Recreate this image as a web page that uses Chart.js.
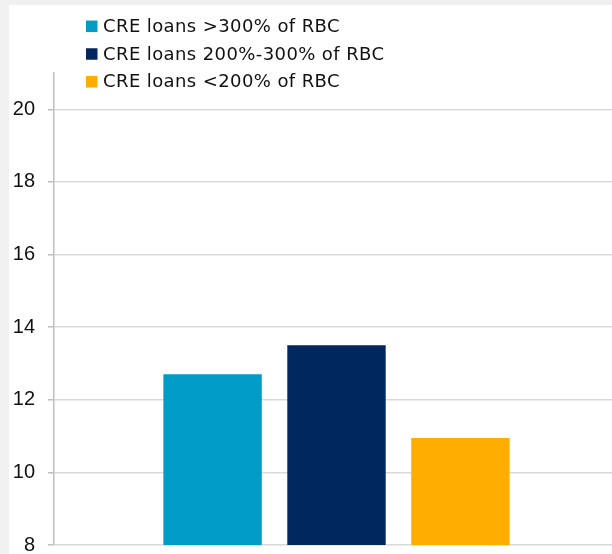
<!DOCTYPE html>
<html>
<head>
<meta charset="utf-8">
<script src="https://cdn.jsdelivr.net/npm/chart.js@4.4.1/dist/chart.umd.min.js"></script>
<style>
  html, body { margin: 0; padding: 0; background: #f0f0f0; overflow: hidden; }
  body { width: 612px; height: 554px; position: relative; }
  #wrap { position: absolute; left: 9px; top: 5px; width: 610px; height: 565px; background: #ffffff; }
  canvas { display: block; }
</style>
</head>
<body>
<div id="wrap"><canvas id="chart" width="610" height="565"></canvas></div>
<script>
// Share of banks (%) by CRE concentration relative to risk-based capital
const categories = [''];
const seriesLabels = ['CRE loans >300% of RBC', 'CRE loans 200%-300% of RBC', 'CRE loans <200% of RBC'];
const seriesValues = [12.7, 13.5, 10.95];
const seriesColors = ['#009cc6', '#00285f', '#ffad00'];
const yMin = 8;
const yMax = 21;
const yStep = 2;
const yLastLabel = 20;

const LEGEND_FONT = '"DejaVu Sans", sans-serif';
const TICK_FONT = '"Liberation Sans", Arial, sans-serif';

// Vertical, left-aligned legend in the space above the plot
const stackedLegend = {
  id: 'stackedLegend',
  afterDraw(chart) {
    const ctx = chart.ctx;
    const x0 = 77, box = 11.5, rowCenters = [21.3, 49, 76.7];
    ctx.save();
    ctx.font = '18px ' + LEGEND_FONT;
    if ('letterSpacing' in ctx) ctx.letterSpacing = '0.4px';
    ctx.textBaseline = 'middle';
    ctx.textAlign = 'left';
    chart.data.datasets.forEach((ds, i) => {
      const cy = rowCenters[i];
      ctx.fillStyle = ds.backgroundColor;
      ctx.fillRect(x0, cy - box / 2, box, box);
      ctx.fillStyle = '#111111';
      ctx.fillText(ds.label, x0 + 17, cy + 1);
    });
    ctx.restore();
  }
};

const datasets = seriesLabels.map((label, i) => ({
  label: label,
  data: [seriesValues[i]],
  backgroundColor: seriesColors[i],
  borderWidth: 0,
  categoryPercentage: 0.658,
  barPercentage: 0.794
}));

new Chart(document.getElementById('chart'), {
  type: 'bar',
  data: { labels: categories, datasets: datasets },
  options: {
    responsive: false,
    animation: false,
    layout: { padding: { top: 68, bottom: 0, left: 0, right: 0 } },
    plugins: {
      legend: { display: false },
      tooltip: { enabled: false }
    },
    scales: {
      x: {
        display: false
      },
      y: {
        min: yMin,
        max: yMax,
        afterBuildTicks(scale) {
          scale.ticks = scale.ticks.filter(t => t.value <= yLastLabel);
        },
        afterFit(scale) {
          scale.width = 45;
        },
        ticks: {
          stepSize: yStep,
          padding: 13,
          color: '#111111',
          font: { family: TICK_FONT, size: 20, lineHeight: 1.2 }
        },
        grid: {
          color: '#d9d9d9',
          lineWidth: 1.5,
          tickLength: 6,
          tickColor: '#bfbfbf'
        },
        border: {
          display: true,
          color: '#bfbfbf',
          width: 1.5
        }
      }
    }
  },
  plugins: [stackedLegend]
});
</script>
</body>
</html>
